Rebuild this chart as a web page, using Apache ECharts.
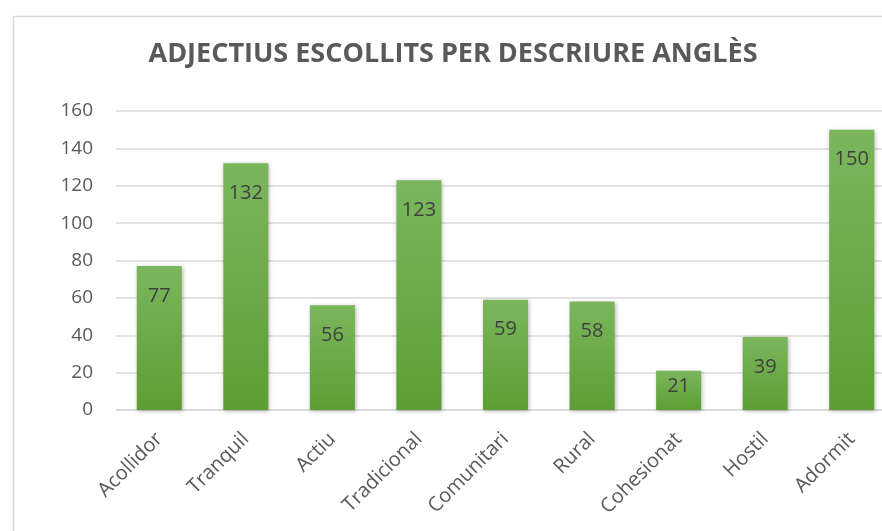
<!DOCTYPE html>
<html><head><meta charset="utf-8">
<script src="https://cdn.jsdelivr.net/npm/echarts@6/dist/echarts.min.js"></script>
<style>html,body{margin:0;padding:0;background:#fff;}#c{width:882px;height:531px;}</style>
</head><body><div id="c"></div>
<script>
const titleText = 'ADJECTIUS ESCOLLITS PER DESCRIURE ANGLÈS';
const categories = ['Acollidor','Tranquil','Actiu','Tradicional','Comunitari','Rural','Cohesionat','Hostil','Adormit'];
const values = [77,132,56,123,59,58,21,39,150];
const yTicks = {min:0, max:160, interval:20};

const chart = echarts.init(document.getElementById('c'));
const font = '"Open Sans", sans-serif';
// short bars get their label closer to the bar top (as in the original)
const barData = values.map(v => v < 30 ? {value:v, label:{distance:6}} : v);
chart.setOption({
  animation:false,
  graphic:[{type:'rect',left:11,top:14,shape:{width:900,height:600},style:{fill:'none',stroke:'#d9d9d9',lineWidth:1.5},z:-1}],
  title:{text:titleText,left:448,top:36,textAlign:'center',textStyle:{fontFamily:font,fontWeight:'bold',fontSize:27,color:'#595959'}},
  grid:{left:116,width:779,top:111,bottom:121,containLabel:false,outerBoundsMode:'none'},
  xAxis:{type:'category',data:categories,
    axisLine:{lineStyle:{color:'#d9d9d9',width:1.5}},axisTick:{show:false},
    axisLabel:{rotate:45,fontFamily:font,fontSize:20,color:'#595959',margin:26,interval:0}},
  yAxis:{type:'value',min:yTicks.min,max:yTicks.max,interval:yTicks.interval,
    axisLine:{show:false},axisTick:{show:false},
    splitLine:{lineStyle:{color:'#d9d9d9',width:1.5}},
    axisLabel:{fontFamily:font,fontSize:19,color:'#595959',margin:23}},
  series:[{type:'bar',data:barData,barWidth:'52%',
    itemStyle:{color:new echarts.graphic.LinearGradient(0,0,0,1,[{offset:0,color:'#7bb65d'},{offset:1,color:'#5c9e33'}]),
      shadowBlur:4,shadowColor:'rgba(0,0,0,0.3)',shadowOffsetX:1,shadowOffsetY:1},
    label:{show:true,position:'insideTop',distance:20,fontFamily:font,fontSize:20,color:'#404040'}}]
});
</script></body></html>
